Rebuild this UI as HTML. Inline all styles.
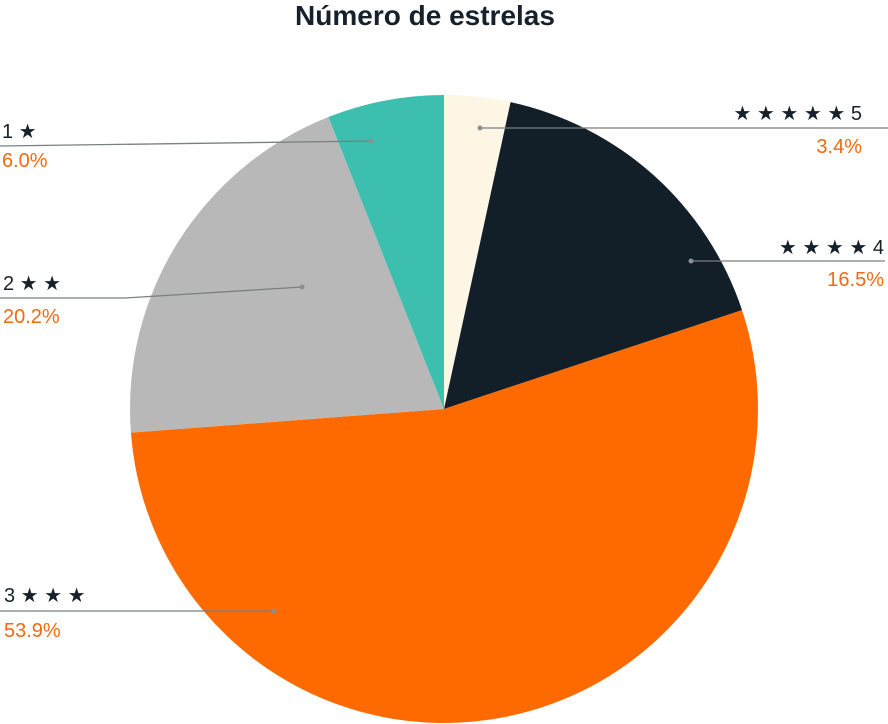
<!DOCTYPE html>
<html><head><meta charset="utf-8"><style>
body{margin:0;background:#fff;width:888px;height:724px;overflow:hidden;font-family:"Liberation Sans",sans-serif}
svg{display:block}
.lab{font-size:20px;fill:#17212b}
.pct{font-size:20px;fill:#f26a10}
</style></head><body>
<svg id="chart" width="888" height="724">
<text x="425" y="25" text-anchor="middle" font-size="28" font-weight="bold" fill="#17212b">Número de estrelas</text>
<g id="slices"></g><g id="labels"></g>
</svg>
<script>
const categories=["5","4","3","2","1"];
const values=[3.4,16.5,53.9,20.2,6.0];
const colors=["#fdf6e5","#121e28","#ff6a00","#b8b8b8","#3dbfb0"];
const starCounts=[5,4,3,2,1];
const cx=444,cy=409,R=314;
const NS="http://www.w3.org/2000/svg";
const total=values.reduce((a,b)=>a+b,0);
function pt(a,r){return [cx+r*Math.sin(a),cy-r*Math.cos(a)];}
const gS=document.getElementById('slices'),gL=document.getElementById('labels');
// label layout: [dot x, dot y, line end x, line y, side]
const layout=[
 {dot:[480,128],pts:[[888,128]],tx:862,ty:120,py:153,anchor:"end",right:true},
 {dot:[691,261],pts:[[885,261]],tx:884,ty:254,py:286,anchor:"end",right:true},
 {dot:[274,611],pts:[[0,611]],tx:4,ty:602,py:637,anchor:"start"},
 {dot:[302,287],pts:[[125,298],[0,298]],tx:3,ty:290,py:323,anchor:"start"},
 {dot:[371,141],pts:[[0,146]],tx:2,ty:138,py:167,anchor:"start"}
];
let a0=0;
values.forEach((v,i)=>{
 const a1=a0+v/total*2*Math.PI;
 const p0=pt(a0,R),p1=pt(a1,R);
 const p=document.createElementNS(NS,'path');
 p.setAttribute('d',`M${cx},${cy}L${p0[0]},${p0[1]}A${R},${R} 0 ${a1-a0>Math.PI?1:0} 1 ${p1[0]},${p1[1]}Z`);
 p.setAttribute('fill',colors[i]);
 
 
 gS.appendChild(p);
 a0=a1;
});
values.forEach((v,i)=>{
 const L=layout[i];
 const pl=document.createElementNS(NS,'polyline');
 pl.setAttribute('points',[L.dot].concat(L.pts).map(q=>q.join(',')).join(' '));
 pl.setAttribute('fill','none');pl.setAttribute('stroke','#7a7f80');pl.setAttribute('stroke-width','1.3');
 
 
 gL.appendChild(pl);
 const c=document.createElementNS(NS,'circle');
 c.setAttribute('cx',L.dot[0]);c.setAttribute('cy',L.dot[1]);c.setAttribute('r','2.5');c.setAttribute('fill','#8a9095');
 
 
 gL.appendChild(c);
 const stars=Array(starCounts[i]).fill('★').join(' ');
 const t=document.createElementNS(NS,'text');
 t.setAttribute('x',L.tx);t.setAttribute('y',L.ty);t.setAttribute('text-anchor',L.anchor);t.setAttribute('class','lab');
 t.textContent=L.right?stars+' '+categories[i]:categories[i]+' '+stars;
 
 
 gL.appendChild(t);
 const t2=document.createElementNS(NS,'text');
 t2.setAttribute('x',L.tx);t2.setAttribute('y',L.py);t2.setAttribute('text-anchor',L.anchor);t2.setAttribute('class','pct');
 t2.textContent=v.toFixed(1)+'%';
 
 
 gL.appendChild(t2);
});
</script>
</body></html>
